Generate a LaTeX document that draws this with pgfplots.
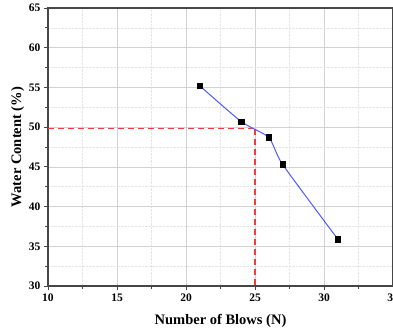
\documentclass[border=0pt]{standalone}
\usepackage{pgfplots}
\pgfplotsset{compat=1.18}
\usepackage{fontspec}
\setmainfont{Liberation Serif}
\definecolor{lineblue}{RGB}{80,90,250}
\definecolor{dashred}{RGB}{240,60,60}
\definecolor{axgray}{RGB}{70,70,70}
\begin{document}
\begin{tikzpicture}
\begin{axis}[
  scale only axis,
  width=345pt, height=278pt,
  xmin=10, xmax=35, ymin=30, ymax=65,
  xtick={10,15,20,25,30,35},
  xticklabels={10,15,20,25,30,35},
  ytick={30,35,40,45,50,55,60,65},
  minor x tick num=1, minor y tick num=1,
  xtick pos=bottom, ytick pos=left,
  tick align=outside,
  major tick length=4pt, minor tick length=2.5pt,
  every tick/.style={axgray, line width=0.8pt},
  axis line style={axgray, line width=1.5pt},
  grid=both,
  major grid style={gray!35, line width=0.6pt},
  minor grid style={gray!20, densely dotted, line width=0.5pt},
  tick label style={font=\bfseries\fontsize{11.5}{12}\selectfont},
  /pgf/number format/assume math mode=true,
  xlabel={\bfseries Number of Blows (N)},
  ylabel={\bfseries Water Content (\%)},
  label style={font=\bfseries\fontsize{14.5}{16}\selectfont},
  xlabel style={yshift=-6pt},
  ylabel style={yshift=-2pt},
]
\addplot[dashred, line width=1.1pt, dash pattern=on 6pt off 4pt] coordinates {(10,49.8) (25,49.8)};
\addplot[dashred, line width=1.1pt, dash pattern=on 6pt off 4pt] coordinates {(25,49.8) (25,30)};
\addplot[lineblue, line width=1pt, smooth, tension=0.35] coordinates {
(21,55.2) (24,50.7) (26,48.7) (27,45.3) (31,35.9)};
\addplot[only marks, mark=square*, mark size=2.8pt, black] coordinates {
(21,55.2) (24,50.7) (26,48.7) (27,45.3) (31,35.9)};
\end{axis}
\pgfresetboundingbox
\path[use as bounding box] ([xshift=-48pt,yshift=-49pt]current axis.south west) rectangle ([yshift=8pt]current axis.north east);
\end{tikzpicture}
\end{document}
